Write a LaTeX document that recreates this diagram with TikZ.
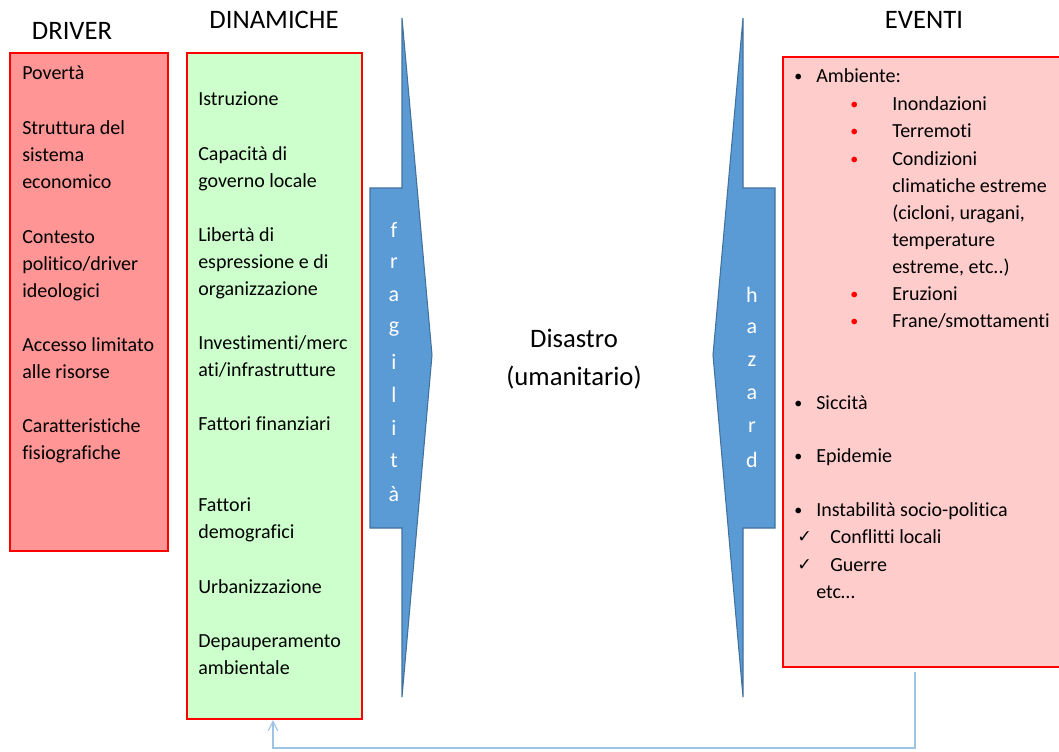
\documentclass[tikz,border=0pt]{standalone}
\usepackage{fontspec}
\setmainfont{Carlito}[Ligatures=NoCommon]
\newfontfamily\symfont{DejaVu Sans}
\usetikzlibrary{arrows.meta}
\definecolor{drvfill}{HTML}{FF9595}
\definecolor{dinfill}{HTML}{CCFFCC}
\definecolor{evtfill}{HTML}{FFCCCC}
\definecolor{boxline}{HTML}{FF0000}
\definecolor{arrfill}{HTML}{5B9BD5}
\definecolor{arrline}{HTML}{41719C}
\definecolor{fbline}{HTML}{9DC3E6}
\tikzset{
  panel/.style={draw=boxline, line width=0.9pt},
  bigarrow/.style={fill=arrfill, draw=arrline, line width=0.8pt},
  title/.style={font=\fontsize{20pt}{24pt}\selectfont, inner sep=0pt},
  body/.style={font=\fontsize{15pt}{20.25pt}\selectfont, inner sep=0pt, anchor=base west, align=left},
  bul/.style={font=\fontsize{12pt}{14pt}\selectfont, inner sep=0pt, anchor=base west},
  letter/.style={font=\fontsize{16.5pt}{19pt}\selectfont, text=white, inner sep=0pt},
  feedback/.style={draw=fbline, line width=0.9pt},
}
\begin{document}
\begin{tikzpicture}[x=0.75pt, y=-0.75pt]
\useasboundingbox (0,0) rectangle (1059,751);
% panels
\draw[panel, fill=drvfill] (10,53) rectangle (168,551);
\draw[panel, fill=dinfill] (187,53) rectangle (362,719);
\draw[panel, fill=evtfill] (783,57) rectangle (1065,667);
% big arrows
\draw[bigarrow] (402,18) -- (432,355) -- (402,697) -- (402,528) -- (370,528) -- (370,188) -- (402,188) -- cycle;
\draw[bigarrow] (743,18) -- (713,355) -- (743,697) -- (743,528) -- (775,528) -- (775,188) -- (743,188) -- cycle;
% titles
\node[title] (tdrv) at (72,31) {DRIVER};
\node[title] (tdin) at (274,20) {DINAMICHE};
\node[title] (tevt) at (924,20) {EVENTI};
\node[title, align=center, font=\fontsize{20pt}{28.5pt}\selectfont] (dis) at (574,359) {Disastro\\(umanitario)};
% fragilita letters
\foreach \l [count=\i] in {f,r,a,g,i,l,i,t,à}
  \node[letter] (fr\i) at (394,{230+33*(\i-1)}) {\l};
\foreach \l [count=\i] in {h,a,z,a,r,d}
  \node[letter] (hz\i) at (752,{295+33*(\i-1)}) {\l};
% driver texts (anchor = baseline of the last line)
\node[body] (d1) at (22,79) {Povertà};
\node[body] (d2) at (22,188) {Struttura del\\sistema\\economico};
\node[body] (d3) at (22,297) {Contesto\\politico/driver\\ideologici};
\node[body] (d4) at (22,378) {Accesso limitato\\alle risorse};
\node[body] (d5) at (22,459) {Caratteristiche\\fisiografiche};
% dinamiche texts
\node[body] (n1) at (198,105) {Istruzione};
\node[body] (n2) at (198,187) {Capacità di\\governo locale};
\node[body] (n3) at (198,295) {Libertà di\\espressione e di\\organizzazione};
\node[body] (n4) at (198,376) {Investimenti/merc\\ati/infrastrutture};
\node[body] (n5) at (198,430) {Fattori finanziari};
\node[body] (n6) at (198,538) {Fattori\\demografici};
\node[body] (n7) at (198,593) {Urbanizzazione};
\node[body] (n8) at (198,674) {Depauperamento\\ambientale};
% eventi texts
\node[bul] (eb1) at (794,81) {•};
\node[body] (e1) at (816,82) {Ambiente:};
\foreach \y [count=\i] in {110,137,165,300,327}
  \node[bul, text=red] (rb\i) at (850,\y-1) {•};
\node[body] (e2) at (892,110) {Inondazioni};
\node[body] (e3) at (892,137) {Terremoti};
\node[body] (e4) at (892,273) {Condizioni\\climatiche estreme\\(cicloni, uragani,\\temperature\\estreme, etc..)};
\node[body] (e5) at (892,300) {Eruzioni};
\node[body] (e6) at (892,327) {Frane/smottamenti};
\node[bul] (eb2) at (794,408) {•};
\node[body] (e7) at (816,409) {Siccità};
\node[bul] (eb3) at (794,461) {•};
\node[body] (e8) at (816,462) {Epidemie};
\node[bul] (eb4) at (794,515) {•};
\node[body] (e9) at (816,516) {Instabilità socio-politica};
\node[body, font=\symfont\fontsize{13pt}{15pt}\selectfont] (ck1) at (797,542) {✓};
\node[body] (e10) at (830,543) {Conflitti locali};
\node[body, font=\symfont\fontsize{13pt}{15pt}\selectfont] (ck2) at (797,570) {✓};
\node[body] (e11) at (830,571) {Guerre};
\node[body] (e12) at (816,598) {etc…};
% feedback connector
\coordinate (fbs) at (915,672);
\coordinate (fbc1) at (915,748);
\coordinate (fbc2) at (273,748);
\coordinate (fbe) at (273,720);
\draw[feedback, -{Straight Barb[length=7pt,width=7pt]}] (fbs) -- (fbc1) -- (fbc2) -- (fbe);
\end{tikzpicture}
\end{document}
